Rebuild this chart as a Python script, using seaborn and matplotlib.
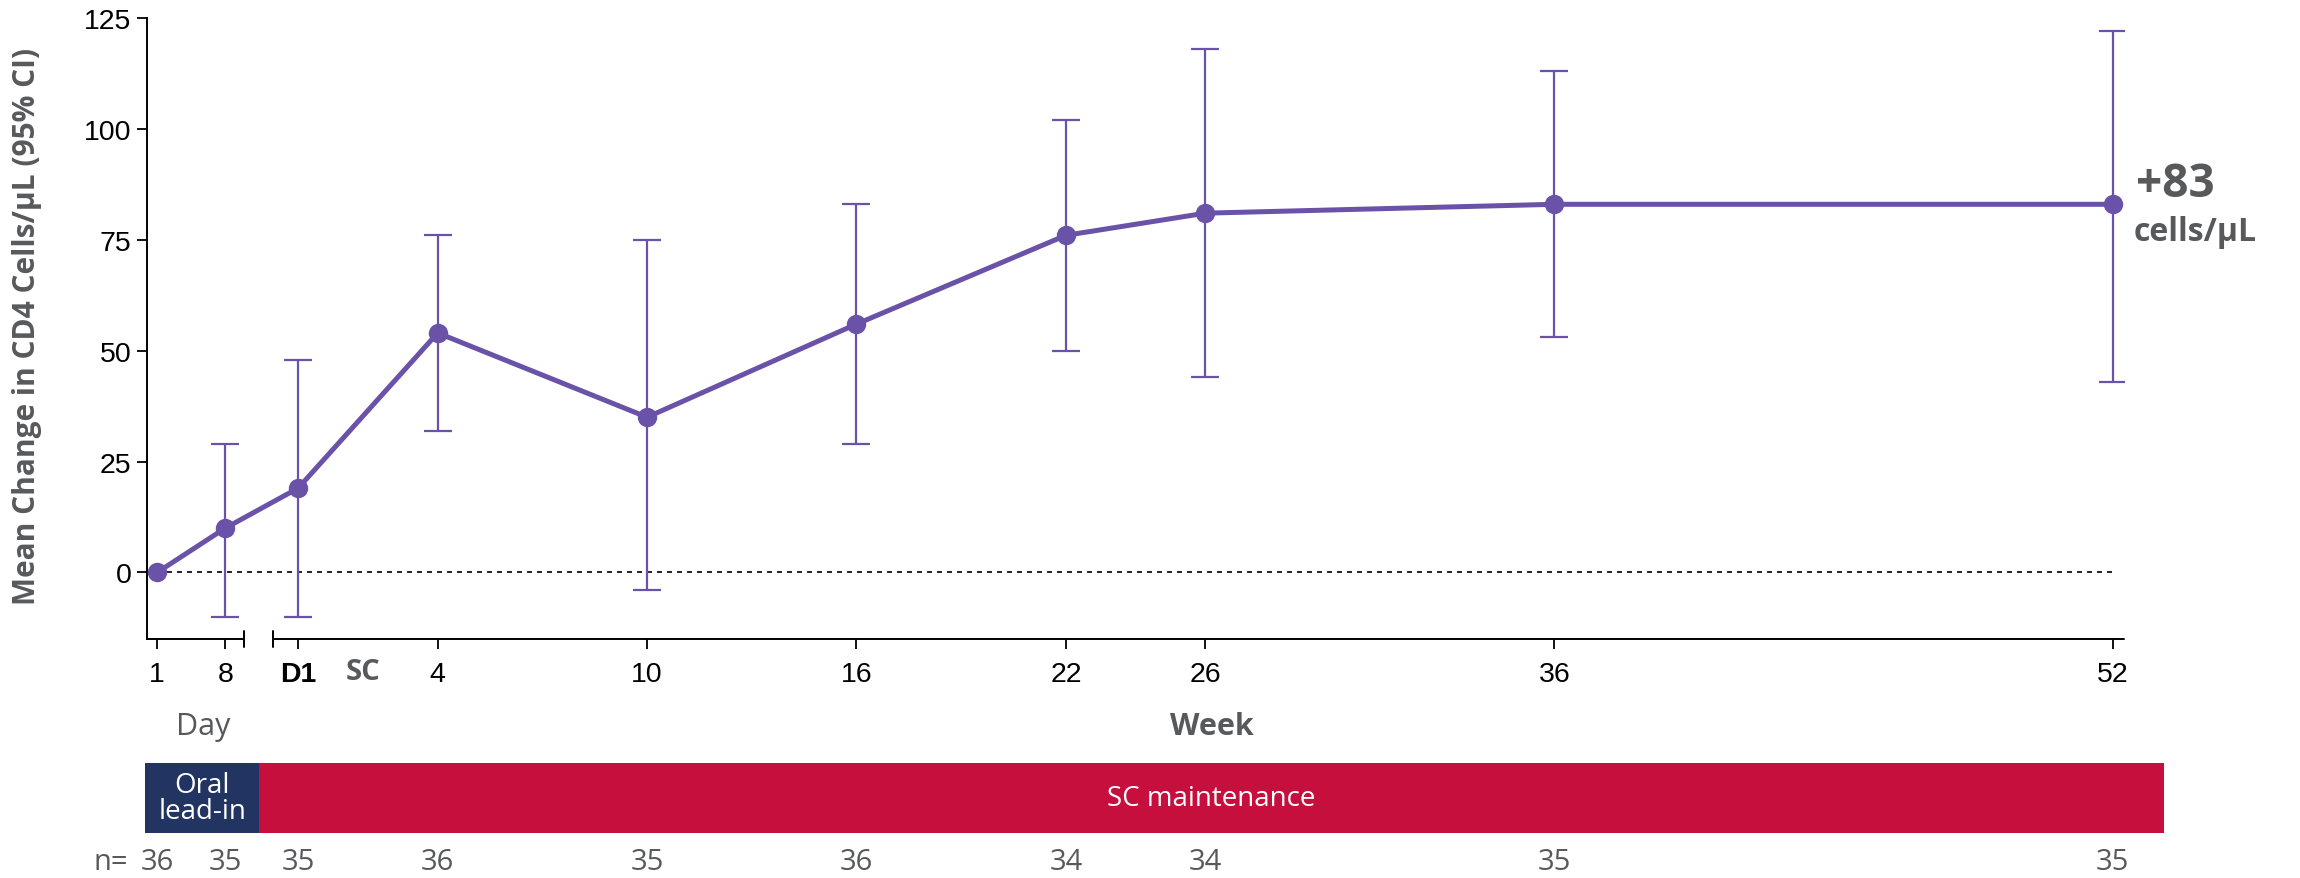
import numpy as np
import pandas as pd
import seaborn as sns
import matplotlib
matplotlib.use('Agg')
from matplotlib import pyplot as plt
from matplotlib import transforms


## DADOS

visits = ['1', '8', 'D1', '4', '10', '16', '22', '26', '36', '52']
visit_days = [1, 8]                              # oral lead-in (study day)
visit_weeks = [0, 4, 10, 16, 22, 26, 36, 52]     # SC phase (week, D1 = 0)
mean_change = [0, 10, 19, 54, 35, 56, 76, 81, 83, 83]
ci_low = [np.nan, -10, -10, 32, -4, 29, 50, 44, 53, 43]
ci_high = [np.nan, 29, 48, 76, 75, 83, 102, 118, 113, 122]
n_pts = [36, 35, 35, 36, 35, 36, 34, 34, 35, 35]
final_label = '+83'
final_unit = 'cells/µL'

## CORES / ESTILO

PURPLE = '#6a52a8'
GRAY = '#58595b'
NAVY = '#213462'
RED = '#c60f3c'
HUMAN = 'Open Sans'

# eixo quebrado: dias comprimidos antes do D1
DAY0 = -4.04
DAY_W = 0.279


def x_dia(d):
    return DAY0 + (d - 1) * DAY_W


xpos = [x_dia(d) for d in visit_days] + visit_weeks

df = pd.DataFrame({'x': xpos, 'mean': mean_change, 'lo': ci_low, 'hi': ci_high, 'n': n_pts})

sns.set_style('ticks')
plt.rcParams['font.family'] = ['Liberation Sans', 'DejaVu Sans']

fig = plt.figure(figsize=(23, 8.79), dpi=100)
ax = fig.add_axes([147 / 2300, 0.2719, (2124 - 147) / 2300, 0.7065])

XMIN, XMAX = -4.33, 52.32
ax.set_xlim(XMIN, XMAX)
ax.set_ylim(-15, 125)

## LINHA ZERO

ax.plot([XMIN, 52], [0, 0], color='black', lw=1.2, ls=(0, (3, 3)), zorder=1)

## IC 95%

err = df.dropna()
ax.errorbar(err['x'], err['mean'], yerr=[err['mean'] - err['lo'], err['hi'] - err['mean']],
            fmt='none', ecolor=PURPLE, elinewidth=1.6, capsize=10, capthick=1.6, zorder=2)

## MÉDIA

sns.lineplot(data=df, x='x', y='mean', ax=ax, color=PURPLE, lw=3.6, marker='o',
             markersize=14, markeredgewidth=0, zorder=3)

## EIXOS

for s in ['top', 'right', 'bottom']:
    ax.spines[s].set_visible(False)
ax.spines['left'].set_linewidth(1.4)
ax.spines['left'].set_color('black')

bx = transforms.blended_transform_factory(ax.transData, ax.transAxes)
brk1, brk2 = -1.547, -0.716
ax.plot([XMIN, brk1], [0, 0], transform=bx, color='black', lw=1.4, clip_on=False)
ax.plot([brk2, XMAX], [0, 0], transform=bx, color='black', lw=1.4, clip_on=False)
for b in [brk1, brk2]:
    ax.plot([b, b], [-0.013, 0.013], transform=bx, color='black', lw=1.4, clip_on=False)

ax.set_xticks(xpos, labels=visits)
ax.set_yticks([0, 25, 50, 75, 100, 125])
ax.tick_params(axis='x', length=7, width=1.3, pad=9, labelsize=20.5, colors='black')
ax.tick_params(axis='y', length=7, width=1.3, pad=4, labelsize=20.5, colors='black')
ax.get_xticklabels()[2].set_fontweight('bold')
ax.set_xlabel('')
ax.set_ylabel('Mean Change in CD4 Cells/µL (95% CI)', fontsize=21.5, color=GRAY,
              weight='bold', family=HUMAN)
ax.yaxis.set_label_coords(-0.053, 0.505)

fx = transforms.blended_transform_factory(ax.transData, fig.transFigure)
ax.text(1.86, 0.2344, 'SC', transform=fx, ha='center', va='center', fontsize=21,
        color=GRAY, weight='bold', family=HUMAN)
ax.text(-2.72, 0.173, 'Day', transform=fx, ha='center', va='center', fontsize=22,
        color=GRAY, family=HUMAN)
ax.text(26.19, 0.173, 'Week', transform=fx, ha='center', va='center', fontsize=22,
        color=GRAY, weight='bold', family=HUMAN)

## RÓTULO FINAL

ax.text(52.65, 87.6, final_label, ha='left', va='center', fontsize=33, color=GRAY,
        weight='bold', family=HUMAN, clip_on=False)
ax.text(52.6, 76.8, final_unit, ha='left', va='center', fontsize=23, color=GRAY,
        weight='bold', family=HUMAN, clip_on=False)

## BARRA DAS FASES

ax_bar = fig.add_axes([147 / 2300, 45 / 879, (2124 - 147) / 2300, 70 / 879])
ax_bar.set_xlim(XMIN, XMAX)
ax_bar.set_ylim(-0.5, 0.5)
ax_bar.axis('off')
ph_start = [-4.38, -1.12]
ph_end = [-1.12, 53.47]
ph_col = [NAVY, RED]
ph_txt = ['Oral\nlead-in', 'SC maintenance']
ph_txt_x = [-2.75, 26.16]
for a, b, c, t, tx in zip(ph_start, ph_end, ph_col, ph_txt, ph_txt_x):
    ax_bar.barh(0, b - a, left=a, height=1, color=c, linewidth=0, clip_on=False)
    ax_bar.text(tx, 0, t, ha='center', va='center', color='white', fontsize=20,
                family=HUMAN, linespacing=0.95)

## n EM RISCO

ax.text(-5.36, 0.0193, 'n=', transform=fx, ha='center', va='center', fontsize=21,
        color=GRAY, family=HUMAN)
for x, n in zip(xpos, n_pts):
    ax.text(x, 0.0193, str(n), transform=fx, ha='center', va='center', fontsize=21,
            color=GRAY, family=HUMAN)

plt.savefig('out.png', dpi=100)
